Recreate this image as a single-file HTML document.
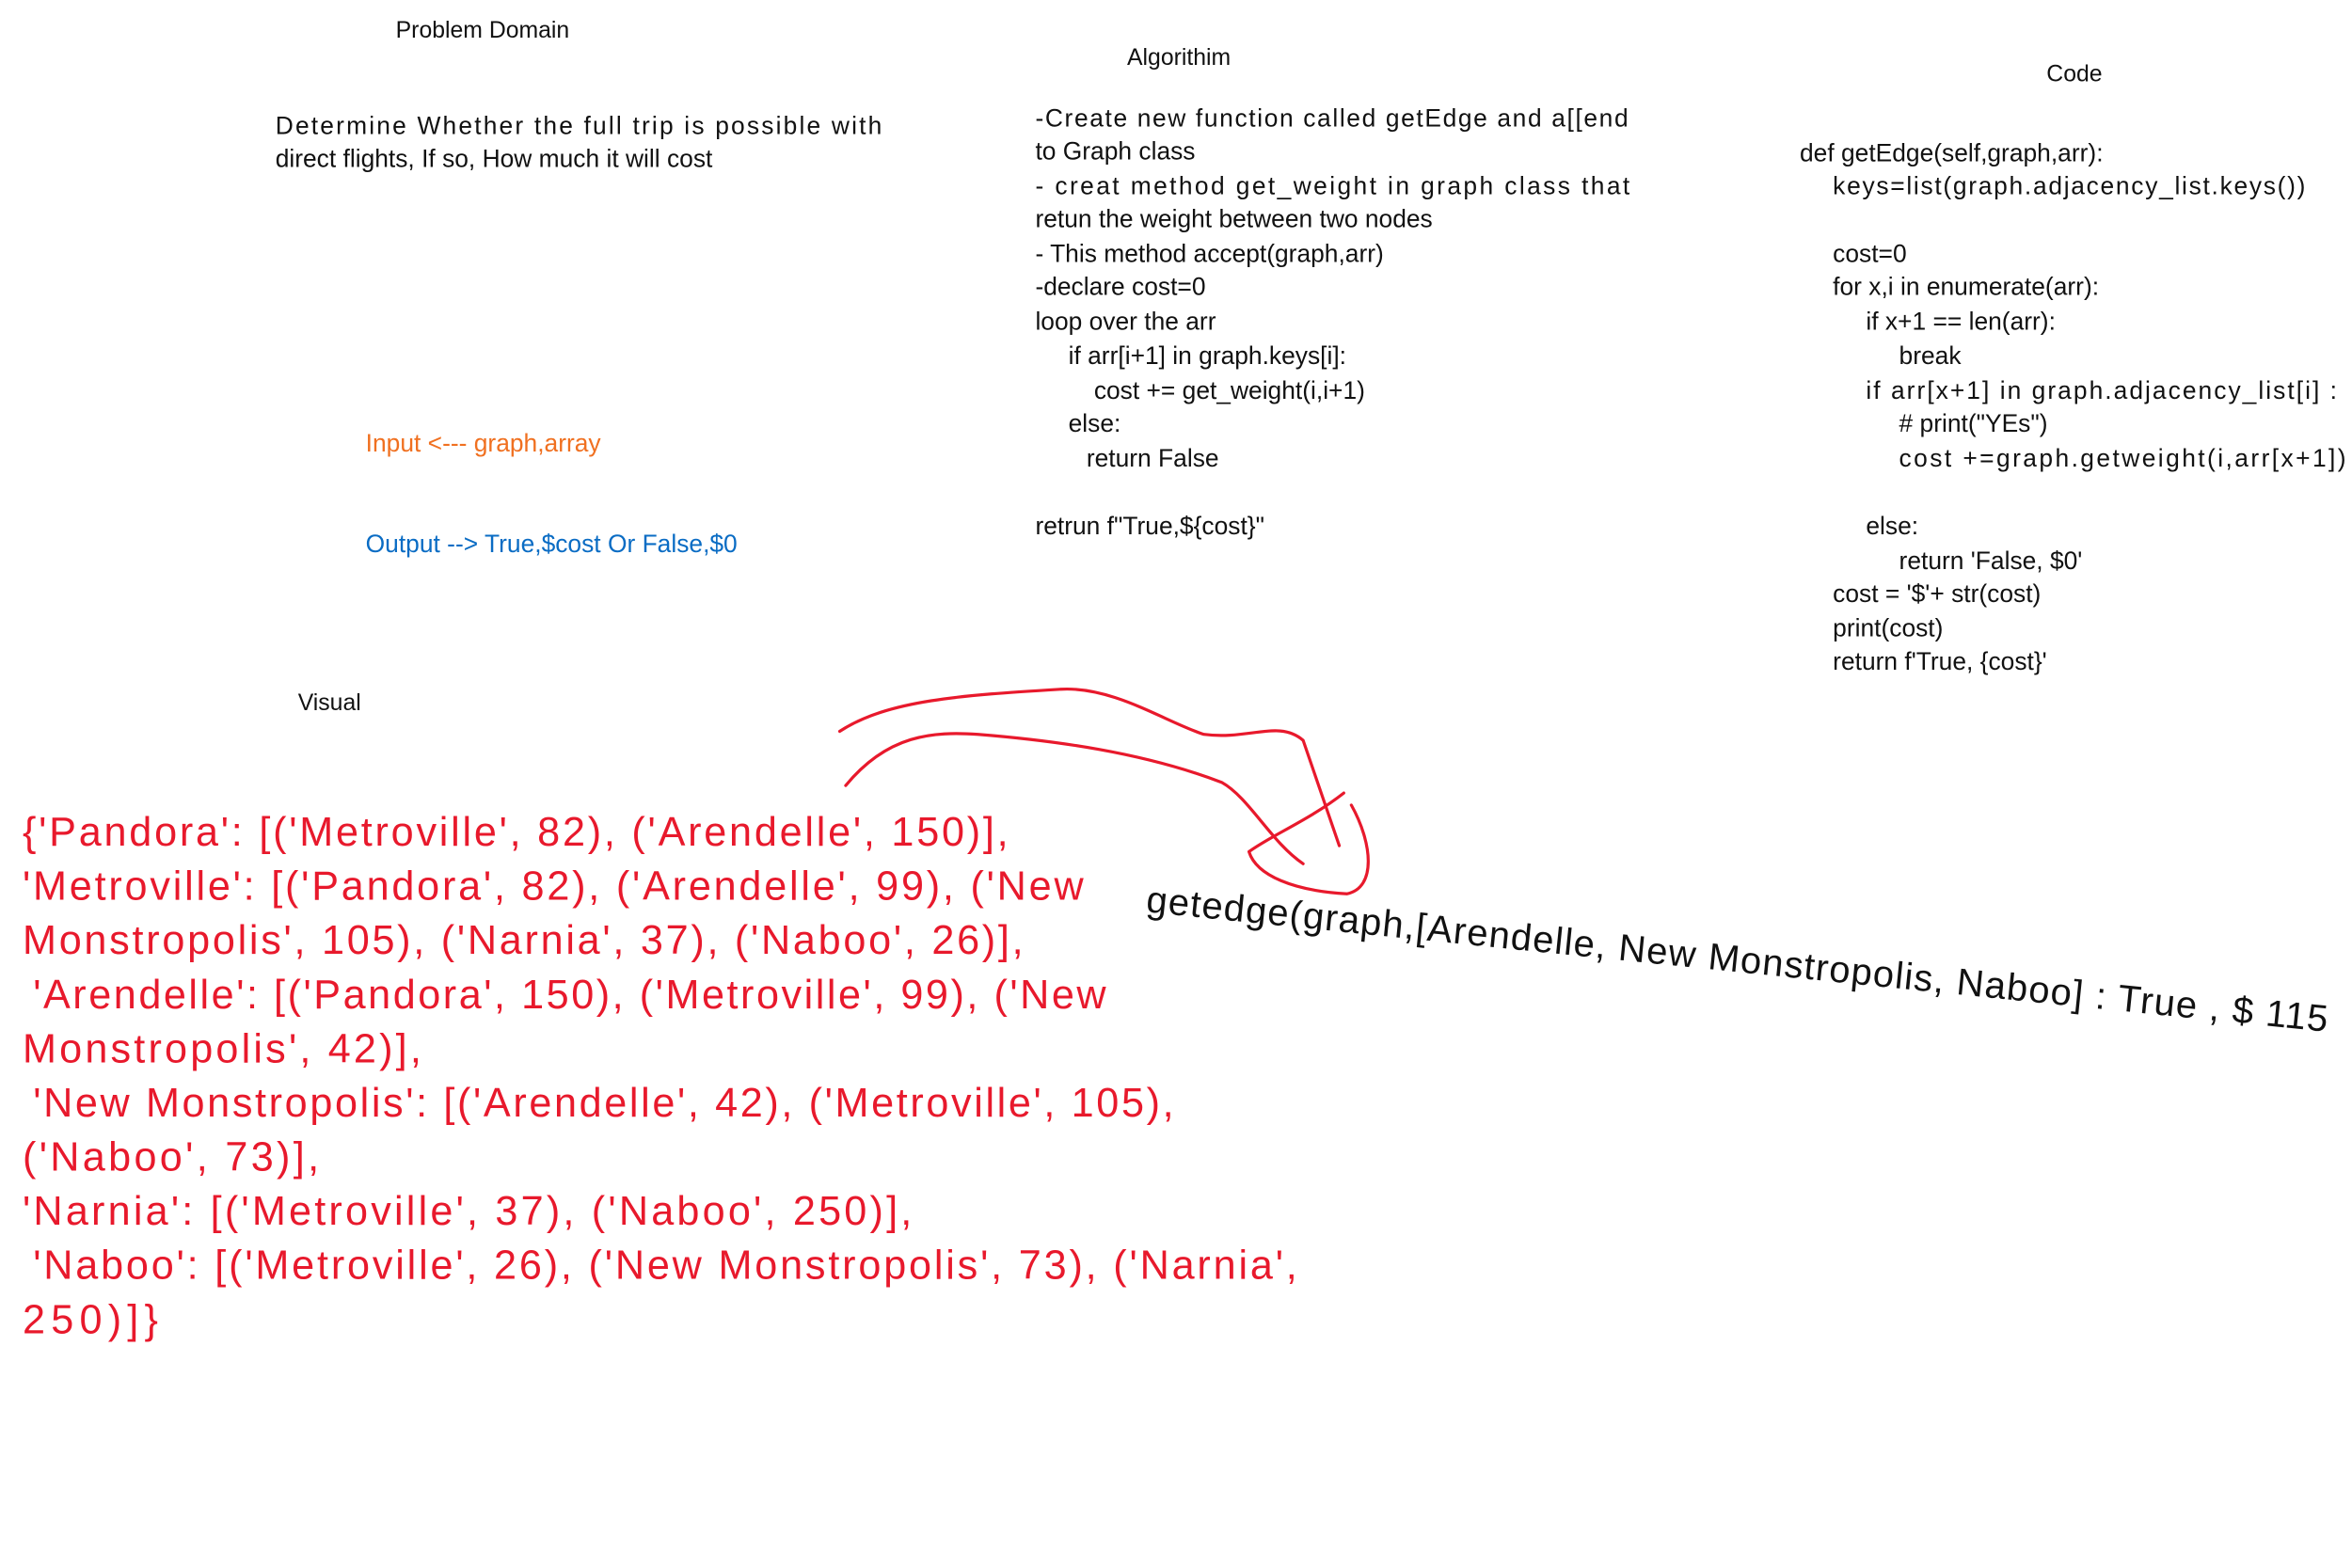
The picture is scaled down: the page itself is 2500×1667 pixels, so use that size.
<!DOCTYPE html>
<html><head><meta charset="utf-8"><style>
html,body{margin:0;padding:0;background:#fff;}
svg{display:block;}
text{font-family:"Liberation Sans",sans-serif;}
</style></head><body>
<svg width="2500" height="1667" viewBox="0 0 1563 1042" xmlns="http://www.w3.org/2000/svg">
<g font-size="15.5" fill="#111">
<text x="263" y="25">Problem Domain</text>
<text x="749" y="43">Algorithim</text>
<text x="1360" y="54">Code</text>
<text x="198" y="472">Visual</text>
</g>
<g font-size="16.5" fill="#111">
<text x="183" y="89" textLength="403">Determine Whether the full trip is possible with</text>
<text x="183" y="111">direct flights, If so, How much it will cost</text>
</g>
<text x="243" y="300" font-size="16.5" fill="#f07020">Input &lt;--- graph,array</text>
<text x="243" y="367" font-size="16.5" fill="#0a6cc4">Output --&gt; True,$cost Or False,$0</text>
<g font-size="16.5" fill="#111">
<text x="688" y="84" textLength="394">-Create new function called getEdge and a[[end</text>
<text x="688" y="106">to Graph class</text>
<text x="688" y="129" textLength="395">- creat method get_weight in graph class that</text>
<text x="688" y="151">retun the weight between two nodes</text>
<text x="688" y="174">- This method accept(graph,arr)</text>
<text x="688" y="196">-declare cost=0</text>
<text x="688" y="219">loop over the arr</text>
<text x="710" y="242">if arr[i+1] in graph.keys[i]:</text>
<text x="727" y="265">cost += get_weight(i,i+1)</text>
<text x="710" y="287">else:</text>
<text x="722" y="310">return False</text>
<text x="688" y="355">retrun f"True,${cost}"</text>
</g>
<g font-size="16.5" fill="#111">
<text x="1196" y="107">def getEdge(self,graph,arr):</text>
<text x="1218" y="129" textLength="314">keys=list(graph.adjacency_list.keys())</text>
<text x="1218" y="174">cost=0</text>
<text x="1218" y="196">for x,i in enumerate(arr):</text>
<text x="1240" y="219">if x+1 == len(arr):</text>
<text x="1262" y="242">break</text>
<text x="1240" y="265" textLength="313">if arr[x+1] in graph.adjacency_list[i] :</text>
<text x="1262" y="287"># print("YEs")</text>
<text x="1262" y="310" textLength="297">cost +=graph.getweight(i,arr[x+1])</text>
<text x="1240" y="355">else:</text>
<text x="1262" y="378">return 'False, $0'</text>
<text x="1218" y="400">cost = '$'+ str(cost)</text>
<text x="1218" y="423">print(cost)</text>
<text x="1218" y="445">return f'True, {cost}'</text>
</g>
<g font-size="27" fill="#e8192c">
<text x="15" y="562" textLength="655">{'Pandora': [('Metroville', 82), ('Arendelle', 150)],</text>
<text x="15" y="598" textLength="705">'Metroville': [('Pandora', 82), ('Arendelle', 99), ('New</text>
<text x="15" y="634" textLength="665">Monstropolis', 105), ('Narnia', 37), ('Naboo', 26)],</text>
<text x="22" y="670" textLength="713">'Arendelle': [('Pandora', 150), ('Metroville', 99), ('New</text>
<text x="15" y="706" textLength="265">Monstropolis', 42)],</text>
<text x="22" y="742" textLength="758">'New Monstropolis': [('Arendelle', 42), ('Metroville', 105),</text>
<text x="15" y="778" textLength="197">('Naboo', 73)],</text>
<text x="15" y="814" textLength="591">'Narnia': [('Metroville', 37), ('Naboo', 250)],</text>
<text x="22" y="850" textLength="840">'Naboo': [('Metroville', 26), ('New Monstropolis', 73), ('Narnia',</text>
<text x="15" y="886" textLength="90">250)]}</text>
</g>
<text x="762" y="606" font-size="25" fill="#111" transform="rotate(5.8 762 598)" textLength="789">getedge(graph,[Arendelle, New Monstropolis, Naboo] : True , $ 115</text>
<g fill="none" stroke="#e8192c" stroke-width="2" stroke-linecap="round" stroke-linejoin="round">
<path d="M558 486 C590 465 640 462 705 458 C740 456 775 480 800 488 C830 492 850 478 866 492 L890 562"/>
<path d="M562 522 C590 488 620 486 650 488 C700 492 760 500 812 520 C830 530 845 560 866 574"/>
<path d="M893 527 C870 545 845 555 830 566 C835 582 860 592 895 594 C915 590 912 560 898 535"/>
</g>
</svg>
</body></html>
